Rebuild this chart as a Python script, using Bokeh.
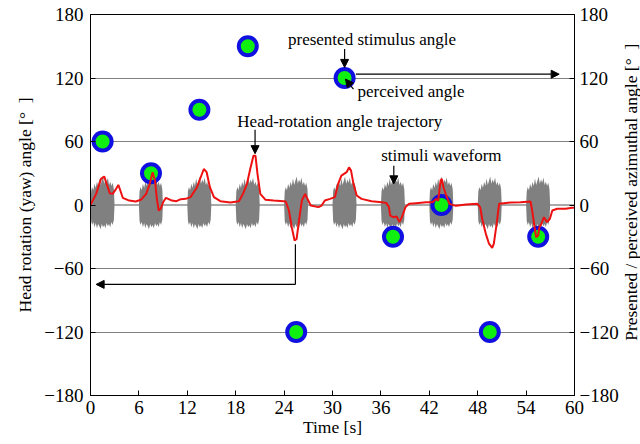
import math
from bokeh.plotting import figure
from bokeh.layouts import row
from bokeh.models import Range1d, LinearAxis, FixedTicker, Span, Label, Arrow, NormalHead
from bokeh.embed import file_html
from bokeh.resources import INLINE

# ---------------- data ----------------
x_ticks = [0, 6, 12, 18, 24, 30, 36, 42, 48, 54, 60]
y_ticks = [-180, -120, -60, 0, 60, 120, 180]
y_tick_labels = ["\u2212180", "\u2212120", "\u221260", "0", "60", "120", "180"]
grid_levels = [-120, -60, 60, 120]

# stimulus presentation times [s] and angles [deg]
stim_t = [1.5, 7.5, 13.5, 19.5, 25.5, 31.5, 37.5, 43.5, 49.5, 55.5]
presented_deg = [60, 30, 90, 150, -120, 120, -30, 0, -120, -30]
perceived_deg = [60, 30, 90, 150, -120, 120, -30, 0, -120, -30]

# stimuli waveform bursts (start times and envelope)
burst_starts = [0, 6, 12, 18, 24, 30, 36, 42, 48, 54]
burst_offset = [0.00, 0.08, 0.2, 0.35, 0.5, 0.65, 0.8, 0.95, 1.1, 1.25, 1.4,
                1.55, 1.7, 1.85, 2.0, 2.15, 2.3, 2.45, 2.6, 2.75, 2.9, 2.98]
burst_upper = [0, 13, 17, 14, 20, 16, 22, 18, 25, 19, 23,
               27, 20, 24, 21, 26, 19, 22, 18, 21, 15, 0]
burst_lower = [0, -15, -19, -16, -21, -17, -22, -18, -20, -23, -18,
               -21, -19, -22, -17, -20, -18, -21, -16, -19, -14, 0]

# head-rotation angle trajectory
traj_t = [0, 0.7, 1.3, 1.7, 2.0, 2.4, 2.75, 3.15, 3.45, 3.7,
          4.0, 4.8, 5.6, 6.25, 6.9, 7.35, 7.7, 8.0, 8.2, 8.45,
          8.7, 9.0, 9.35, 10.1, 10.65, 11.2, 11.8, 12.4, 13.2, 13.65,
          14.05, 14.4, 14.8, 15.3, 16.1, 17.35, 18.4, 18.9, 19.4, 19.8,
          20.2, 20.45, 20.7, 21.05, 21.7, 22.7, 23.95, 24.2, 24.6, 24.95,
          25.3, 25.55, 25.85, 26.2, 26.6, 26.9, 27.3, 28.25, 28.65, 29.05,
          29.7, 30.3, 30.7, 31.1, 31.75, 32.05, 32.3, 32.6, 33.0, 33.6,
          34.85, 36.1, 36.65, 37.0, 37.15, 37.55, 37.95, 38.3, 38.6, 39.05,
          39.5, 40.35, 41.6, 42.4, 42.85, 43.1, 43.4, 43.55, 43.75, 44.1,
          44.5, 45.3, 46.55, 47.95, 48.3, 48.6, 49.0, 49.4, 49.8, 50.0,
          50.35, 50.65, 51.25, 52.1, 53.3, 54.55, 54.75, 55.05, 55.25, 55.5,
          55.65, 55.9, 56.2, 56.6, 56.95, 57.25, 57.85, 58.9, 59.7, 60]
traj_deg = [0, 10.5, 24.7, 27, 20, 11, 10.5, 15, 19, 13.7,
            6.8, 4.2, 3.3, 4.9, 10.5, 20, 31, 23, 7.4, -5.2,
            -3.6, 2.6, 6.8, 4.2, 3.6, 5.5, 5.8, 7.4, 16.8, 26,
            34, 31, 16.8, 7.4, 3.6, 2.4, 3.6, 10.5, 20, 34,
            46.6, 46.6, 29.5, 10.5, 4.9, 4.2, 3.6, 3.3, -5.2, -21,
            -33.5, -32, -14.6, 4.2, 10.5, 5.8, -0.5, -2, -0.5, 4.2,
            5.8, 7.4, 20, 27.8, 31, 35.6, 32.5, 20, 9, 5.8,
            3.6, 2.6, 2, -2, -10, -11.5, -10.8, -16.2, -11.5, -2,
            1.1, 1.7, 2.6, 2.6, 5.8, 4, 23, 24.7, 16.8, 9,
            1.1, -0.8, 0.5, 1.1, -2, -14.6, -27, -36.6, -40.4, -36.6,
            -17.7, 1.1, 1.7, 2.4, 2.6, 3.3, -5.2, -21, -30.5, -28.7,
            -21, -17.7, -11.5, -16.2, -13, -5.2, -3.6, -3.6, -2.6, -2.6]

FONT = "'Liberation Serif'"
Y_RANGE = Range1d(-180, 180)

# ---------------- main figure ----------------
p = figure(width=621, height=444, output_backend="svg", toolbar_location=None,
           x_range=Range1d(0, 60), y_range=Y_RANGE,
           min_border_left=90, min_border_right=46, min_border_top=14,
           min_border_bottom=49, background_fill_color="white",
           border_fill_color="white")
p.outline_line_color = "black"
p.outline_line_width = 1

p.xgrid.visible = False
p.ygrid.ticker = FixedTicker(ticks=grid_levels)
p.ygrid.grid_line_color = "black"
p.ygrid.grid_line_dash = "1 1"
p.ygrid.grid_line_width = 1

def style_axis(ax):
    ax.axis_line_color = "black"
    ax.major_tick_line_color = "black"
    ax.major_tick_in = 5
    ax.major_tick_out = 0
    ax.minor_tick_line_color = None
    ax.major_label_text_font = FONT
    ax.major_label_text_font_size = "19px"
    ax.major_label_text_color = "black"
    ax.axis_label_text_font = FONT
    ax.axis_label_text_font_size = "17.5px"
    ax.axis_label_text_font_style = "normal"
    ax.axis_label_text_color = "black"

xa = p.xaxis[0]
xa.ticker = FixedTicker(ticks=x_ticks)
xa.axis_label = "Time [s]"
xa.major_label_standoff = 5
xa.axis_label_standoff = 0
style_axis(xa)

ya = p.yaxis[0]
ya.ticker = FixedTicker(ticks=y_ticks)
ya.major_label_overrides = {t: l for t, l in zip(y_ticks, y_tick_labels)}
ya.axis_label = "Head rotation (yaw) angle [\u00b0\u00a0\u00a0]"
ya.major_label_standoff = 7
ya.axis_label_standoff = 6
style_axis(ya)

ra = LinearAxis(ticker=FixedTicker(ticks=y_ticks),
                major_label_overrides={t: l for t, l in zip(y_ticks, y_tick_labels)})
style_axis(ra)
ra.major_label_standoff = 5
p.add_layout(ra, "right")

# zero line (behind the waveform)
p.add_layout(Span(location=0, dimension="width", line_color="#8c8c8c",
                  line_width=1.5, level="underlay"))

# stimuli waveform
for s in burst_starts:
    bx = [s + o for o in burst_offset]
    p.varea(x=bx, y1=burst_lower, y2=burst_upper, fill_color="#808080")

# stimulus angles
p.scatter(stim_t, presented_deg, size=22, fill_color="#1010e0", line_color=None)
p.scatter(stim_t, perceived_deg, size=14, fill_color="#10f010", line_color=None)

# trajectory
p.line(traj_t, traj_deg, line_color="#ee1111", line_width=2)

# ---------------- annotations ----------------
def arrow(x0, y0, x1, y1, head=True):
    end = NormalHead(size=8, fill_color="black", line_color="black", line_width=1) if head else None
    p.add_layout(Arrow(end=end, x_start=x0, y_start=y0, x_end=x1, y_end=y1,
                       line_color="black", line_width=1.2))

def note(x, y, text, align="center"):
    p.add_layout(Label(x=x, y=y, text=text, text_font=FONT, text_font_size="17px",
                       text_align=align, text_baseline="middle", text_color="black"))

note(34.9, 156.5, "presented stimulus angle")
arrow(31.5, 147.5, 31.5, 130)
arrow(32.9, 123.6, 58.1, 123.6)
note(33.1, 107, "perceived angle", align="left")
arrow(32.6, 109.5, 31.6, 119)
note(30.9, 78.7, "Head-rotation angle trajectory")
arrow(20.4, 71, 20.4, 48.5)
note(43.5, 46.7, "stimuli waveform")
arrow(37.6, 37.2, 37.6, 20)
arrow(25.4, -37, 25.4, -75, head=False)
arrow(25.4, -75, 0.7, -75)

# ---------------- right-hand axis title strip ----------------
q = figure(width=19, height=444, output_backend="svg", toolbar_location=None,
           x_range=Range1d(0, 1), y_range=Y_RANGE,
           min_border_left=0, min_border_right=0, min_border_top=14,
           min_border_bottom=49, background_fill_color="white",
           border_fill_color="white")
q.outline_line_color = None
q.axis.visible = False
q.grid.visible = False
q.add_layout(Label(x=0.5, y=12, text="Presented / perceived azimuthal angle [\u00b0\u00a0\u00a0]",
                   angle=math.pi / 2, text_font=FONT, text_font_size="17.5px",
                   text_align="center", text_baseline="middle", text_color="black"))

layout = row(p, q, spacing=0)
open("out.html", "w").write(file_html(layout, INLINE))
